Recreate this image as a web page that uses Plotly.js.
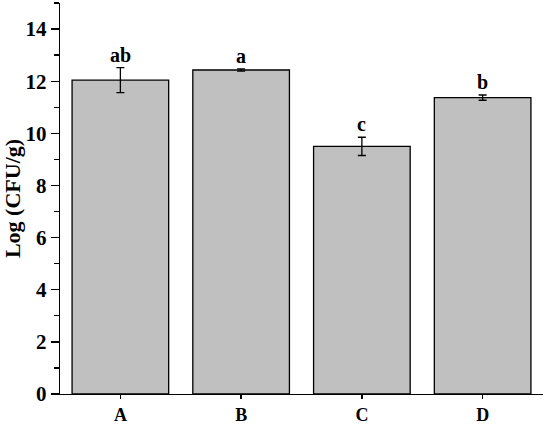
<!DOCTYPE html>
<html>
<head>
<meta charset="utf-8">
<script src="https://cdn.plot.ly/plotly-3.0.1.min.js"></script>
<style>html,body{margin:0;padding:0;background:#fff;}#chart{width:550px;height:425px;}</style>
</head>
<body>
<div id="chart"></div>
<script>
const categories = ["A", "B", "C", "D"];
const values = [12.04, 12.43, 9.50, 11.37];
const errors = [0.48, 0.04, 0.35, 0.10];
const letters = ["ab", "a", "c", "b"];

const font = {family: "Liberation Serif", color: "#000"};

const trace = {
  type: "bar",
  x: categories,
  y: values,
  width: 0.8,
  marker: {color: "#c0c0c0", line: {color: "#000", width: 1.3}},
  error_y: {type: "data", array: errors, visible: true, color: "#000", thickness: 1.3, width: 4}
};

const annotations = categories.map((c, i) => ({
  x: c, y: values[i] + errors[i], xref: "x", yref: "y",
  text: "<b>" + letters[i] + "</b>", showarrow: false,
  yanchor: "bottom", yshift: 0,
  font: Object.assign({}, font, {size: 20})
}));

const layout = {
  width: 550, height: 425,
  margin: {l: 60, r: 7, t: 3, b: 31},
  paper_bgcolor: "#fff", plot_bgcolor: "#fff",
  showlegend: false,
  font: font,
  xaxis: {
    type: "category", range: [-0.5, 3.5],
    showline: true, linecolor: "#000", linewidth: 1.3,
    ticks: "outside", ticklen: 4, tickcolor: "#000", tickwidth: 1.3,
    tickfont: Object.assign({}, font, {size: 18, weight: "bold"}),
    showgrid: false, zeroline: false
  },
  yaxis: {
    range: [0, 15], tickvals: [0, 2, 4, 6, 8, 10, 12, 14],
    showline: true, linecolor: "#000", linewidth: 1.3,
    ticks: "outside", ticklen: 8, tickcolor: "#000", tickwidth: 1.3,
    minor: {tickvals: [1, 3, 5, 7, 9, 11, 13, 15], ticks: "outside", ticklen: 5, tickcolor: "#000", tickwidth: 1.3},
    tickfont: Object.assign({}, font, {size: 21, weight: "bold"}),
    title: {text: "<b>Log (CFU/g)</b>", font: Object.assign({}, font, {size: 22}), standoff: 4},
    showgrid: false, zeroline: false
  },
  annotations: annotations
};

Plotly.newPlot("chart", [trace], layout, {staticPlot: true, displayModeBar: false});
</script>
</body>
</html>
